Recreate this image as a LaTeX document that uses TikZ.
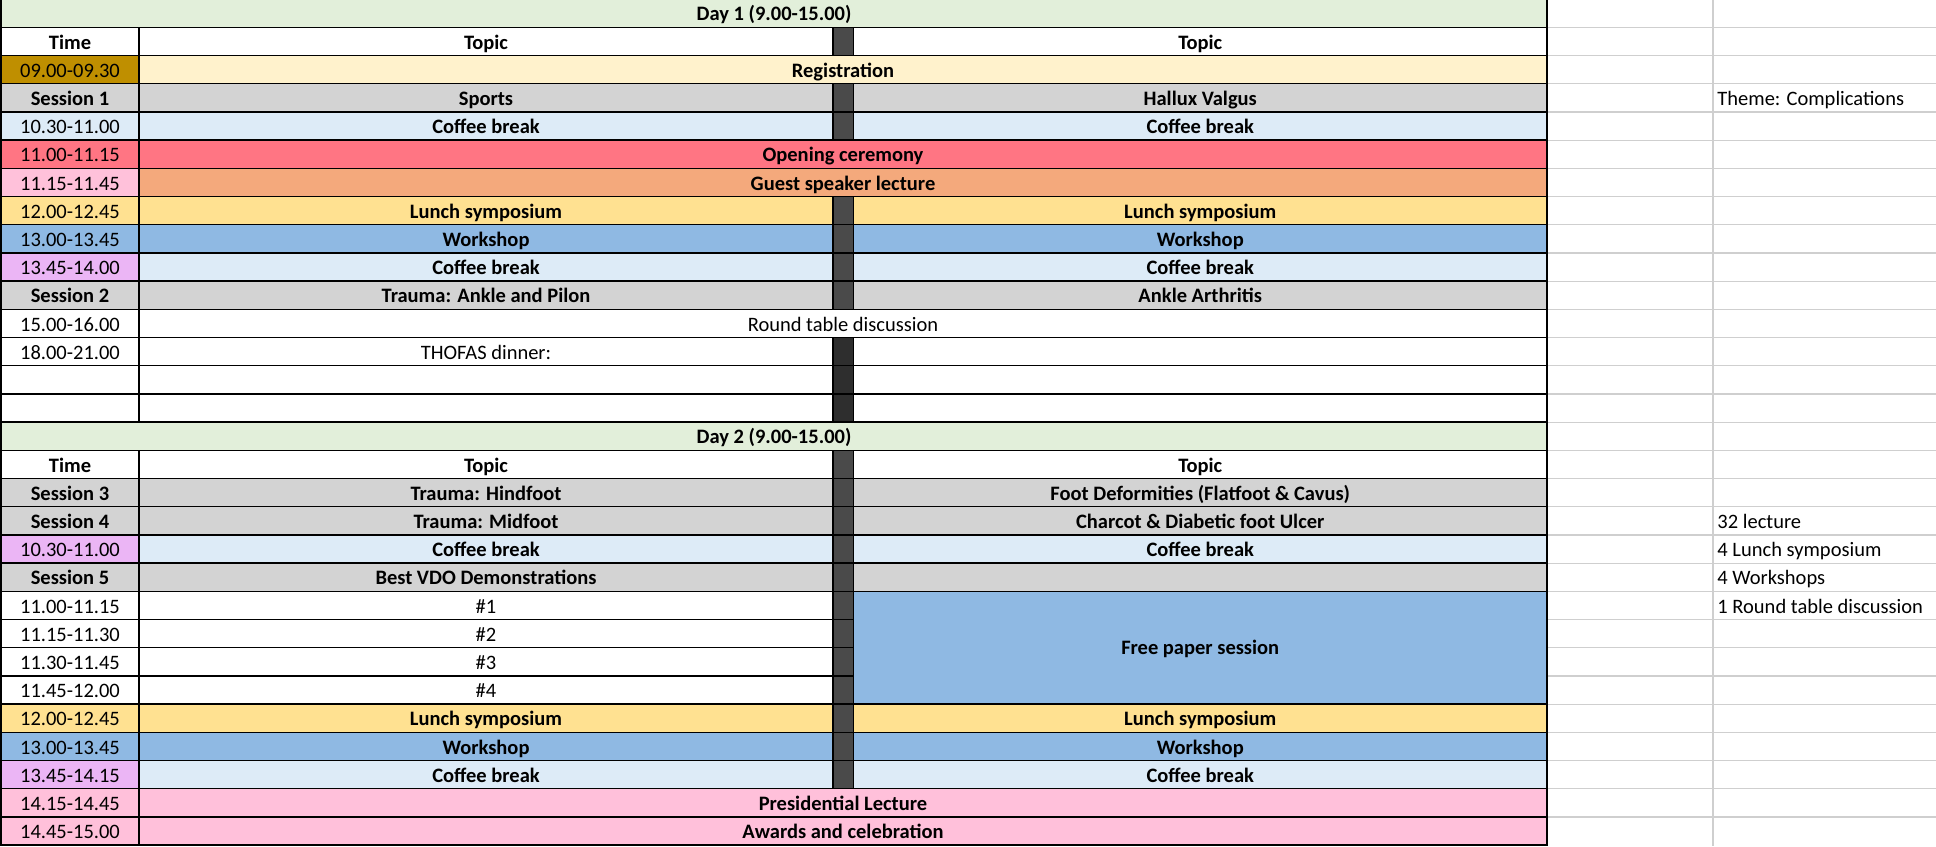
\documentclass[tikz,border=0pt]{standalone}
\usepackage{fontspec}
\setmainfont{Carlito}
\definecolor{hgreen}{HTML}{E2EFDA}
\definecolor{hgold}{HTML}{BF8F00}
\definecolor{hcream}{HTML}{FFF2CC}
\definecolor{hgray}{HTML}{D3D3D3}
\definecolor{hlblue}{HTML}{DDEBF7}
\definecolor{hred}{HTML}{FF7583}
\definecolor{hpinkt}{HTML}{FFC1DA}
\definecolor{horange}{HTML}{F4A97C}
\definecolor{hyellow}{HTML}{FFE191}
\definecolor{hblue}{HTML}{8FB9E3}
\definecolor{hlav}{HTML}{EBB5F5}
\definecolor{hpink}{HTML}{FFC0DA}
\definecolor{hsep}{HTML}{4A4A4A}
\definecolor{hsepd}{HTML}{2E2E2E}
\definecolor{hgrid}{HTML}{CFCFCF}
\tikzset{
  cellst/.style={draw=black, line width=0.75pt},
  bt/.style={anchor=base, inner sep=0pt, font=\fontsize{10.25}{12}\selectfont\bfseries},
  nt/.style={anchor=base, inner sep=0pt, font=\fontsize{10.25}{12}\selectfont},
  notest/.style={anchor=base west, inner sep=0pt, font=\fontsize{10.25}{12}\selectfont},
  gridst/.style={draw=hgrid, line width=0.6pt}
}
% #1 x1, #2 x2, #3 row start, #4 row end, #5 colour
\newcommand\cellfill[5]{\path[cellst,fill=#5] (#1,{28.2*(#3)-0.9}) rectangle (#2,{28.2*(#4)-0.9});}
% #1 name, #2 x1, #3 x2, #4 row, #5 style, #6 text
\newcommand\celltext[6]{\node[#5] (#1) at ({(#2+#3)/2},{28.2*(#4)+20.8}) {#6};}
% #1 row, #2 time colour, #3 time text, #4 time style, #5 topic colour, #6 left, #7 right, #8 sep colour
\newcommand\stdrow[8]{%
  \cellfill{1}{139}{#1}{#1+1}{#2}
  \celltext{t#1}{1}{139}{#1}{#4}{#3}
  \cellfill{139}{833}{#1}{#1+1}{#5}
  \celltext{l#1}{139}{833}{#1}{bt}{#6}
  \cellfill{833}{853.5}{#1}{#1+1}{#8}
  \cellfill{853.5}{1547}{#1}{#1+1}{#5}
  \celltext{r#1}{853.5}{1547}{#1}{bt}{#7}}
% #1 row, #2 time colour, #3 time text, #4 topic colour, #5 text, #6 style
\newcommand\mergerow[6]{%
  \cellfill{1}{139}{#1}{#1+1}{#2}
  \celltext{t#1}{1}{139}{#1}{nt}{#3}
  \cellfill{139}{1547}{#1}{#1+1}{#4}
  \celltext{m#1}{139}{1547}{#1}{#6}{#5}}
\begin{document}
\begin{tikzpicture}[x=0.5pt,y=-0.5pt]
\useasboundingbox (0,0) rectangle (1936,846);
\fill[white] (0,0) rectangle (1936,846);
% spreadsheet grid on the right
\foreach \i in {1,...,29} {\draw[gridst] (1547,{28.2*\i-0.9}) -- (1936,{28.2*\i-0.9});}
\draw[gridst] (1713,0) -- (1713,846);
% Day 1
\cellfill{1}{1547}{0}{1}{hgreen}
\celltext{d1}{1}{1547}{0}{bt}{Day 1 (9.00-15.00)}
\stdrow{1}{white}{Time}{bt}{white}{Topic}{Topic}{hsep}
\mergerow{2}{hgold}{09.00-09.30}{hcream}{Registration}{bt}
\stdrow{3}{hgray}{Session 1}{bt}{hgray}{Sports}{Hallux Valgus}{hsep}
\stdrow{4}{hlblue}{10.30-11.00}{nt}{hlblue}{Coffee break}{Coffee break}{hsep}
\mergerow{5}{hred}{11.00-11.15}{hred}{Opening ceremony}{bt}
\mergerow{6}{hpinkt}{11.15-11.45}{horange}{Guest speaker lecture}{bt}
\stdrow{7}{hyellow}{12.00-12.45}{nt}{hyellow}{Lunch symposium}{Lunch symposium}{hsep}
\stdrow{8}{hblue}{13.00-13.45}{nt}{hblue}{Workshop}{Workshop}{hsep}
\stdrow{9}{hlav}{13.45-14.00}{nt}{hlblue}{Coffee break}{Coffee break}{hsep}
\stdrow{10}{hgray}{Session 2}{bt}{hgray}{Trauma: Ankle and Pilon}{Ankle Arthritis}{hsep}
\mergerow{11}{white}{15.00-16.00}{white}{Round table discussion}{nt}
% row 12 (dinner) and two empty rows
\cellfill{1}{139}{12}{13}{white}
\celltext{t12}{1}{139}{12}{nt}{18.00-21.00}
\cellfill{139}{833}{12}{13}{white}
\celltext{l12}{139}{833}{12}{nt}{THOFAS dinner:}
\cellfill{833}{853.5}{12}{13}{hsepd}
\cellfill{853.5}{1547}{12}{13}{white}
\foreach \r in {13,14} {
  \cellfill{1}{139}{\r}{\r+1}{white}
  \cellfill{139}{833}{\r}{\r+1}{white}
  \cellfill{833}{853.5}{\r}{\r+1}{hsepd}
  \cellfill{853.5}{1547}{\r}{\r+1}{white}
}
% Day 2
\cellfill{1}{1547}{15}{16}{hgreen}
\celltext{d2}{1}{1547}{15}{bt}{Day 2 (9.00-15.00)}
\stdrow{16}{white}{Time}{bt}{white}{Topic}{Topic}{hsep}
\stdrow{17}{hgray}{Session 3}{bt}{hgray}{Trauma: Hindfoot}{Foot Deformities (Flatfoot \& Cavus)}{hsep}
\stdrow{18}{hgray}{Session 4}{bt}{hgray}{Trauma: Midfoot}{Charcot \& Diabetic foot Ulcer}{hsep}
\stdrow{19}{hlav}{10.30-11.00}{nt}{hlblue}{Coffee break}{Coffee break}{hsep}
\stdrow{20}{hgray}{Session 5}{bt}{hgray}{Best VDO Demonstrations}{}{hsep}
% video demonstrations and free paper session
\cellfill{1}{139}{21}{22}{white}
\celltext{t21}{1}{139}{21}{nt}{11.00-11.15}
\cellfill{139}{833}{21}{22}{white}
\celltext{l21}{139}{833}{21}{nt}{\#1}
\cellfill{833}{853.5}{21}{22}{hsep}
\cellfill{1}{139}{22}{23}{white}
\celltext{t22}{1}{139}{22}{nt}{11.15-11.30}
\cellfill{139}{833}{22}{23}{white}
\celltext{l22}{139}{833}{22}{nt}{\#2}
\cellfill{833}{853.5}{22}{23}{hsep}
\cellfill{1}{139}{23}{24}{white}
\celltext{t23}{1}{139}{23}{nt}{11.30-11.45}
\cellfill{139}{833}{23}{24}{white}
\celltext{l23}{139}{833}{23}{nt}{\#3}
\cellfill{833}{853.5}{23}{24}{hsep}
\cellfill{1}{139}{24}{25}{white}
\celltext{t24}{1}{139}{24}{nt}{11.45-12.00}
\cellfill{139}{833}{24}{25}{white}
\celltext{l24}{139}{833}{24}{nt}{\#4}
\cellfill{833}{853.5}{24}{25}{hsep}
\cellfill{853.5}{1547}{21}{25}{hblue}
\node[bt] (fps) at ({(853.5+1547)/2},{28.2*23-0.9+6.6}) {Free paper session};
\stdrow{25}{hyellow}{12.00-12.45}{nt}{hyellow}{Lunch symposium}{Lunch symposium}{hsep}
\stdrow{26}{hblue}{13.00-13.45}{nt}{hblue}{Workshop}{Workshop}{hsep}
\stdrow{27}{hlav}{13.45-14.15}{nt}{hlblue}{Coffee break}{Coffee break}{hsep}
\mergerow{28}{hpink}{14.15-14.45}{hpink}{Presidential Lecture}{bt}
\mergerow{29}{hpink}{14.45-15.00}{hpink}{Awards and celebration}{bt}
% notes on the right
\node[notest] (n1) at (1717,{28.2*3+20.8}) {Theme: Complications};
\node[notest] (n2) at (1717,{28.2*18+20.8}) {32 lecture};
\node[notest] (n3) at (1717,{28.2*19+20.8}) {4 Lunch symposium};
\node[notest] (n4) at (1717,{28.2*20+20.8}) {4 Workshops};
\node[notest] (n5) at (1717,{28.2*21+20.8}) {1 Round table discussion};
\end{tikzpicture}
\end{document}
